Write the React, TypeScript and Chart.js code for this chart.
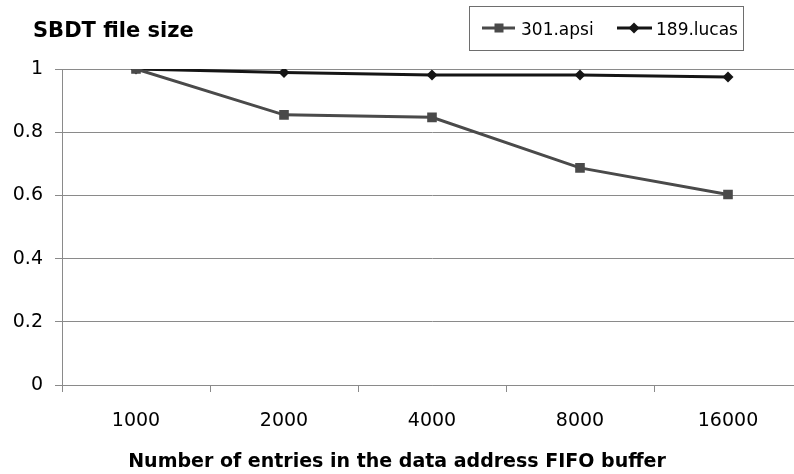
import React, { useEffect, useRef } from "react";
import { Chart, registerables } from "chart.js";

Chart.register(...registerables);

const categories = ["1000", "2000", "4000", "8000", "16000"];
const apsiValues = [1.0, 0.855, 0.847, 0.687, 0.603];
const lucasValues = [1.0, 0.989, 0.981, 0.981, 0.975];
const seriesNames = ["301.apsi", "189.lucas"];
const chartTitle = "SBDT file size";
const xAxisTitle = "Number of entries in the data address FIFO buffer";

const FONT = "'DejaVu Sans', 'Liberation Sans', Arial, sans-serif";
const APSI_COLOR = "#4a4a4a";
const LUCAS_COLOR = "#151515";
const GRID_COLOR = "#8a8a8a";

const overlayPlugin = {
  id: "overlay",
  afterDraw(chart: any) {
    const ctx = chart.ctx as CanvasRenderingContext2D;
    ctx.save();
    // title
    ctx.fillStyle = "#000";
    ctx.font = `bold 21px ${FONT}`;
    ctx.textAlign = "left";
    ctx.textBaseline = "alphabetic";
    ctx.fillText(chartTitle, 33, 37);

    // x axis title
    ctx.font = `bold 19px ${FONT}`;
    ctx.textAlign = "center";
    ctx.fillText(xAxisTitle, 397, 467);

    // legend box
    ctx.strokeStyle = "#6e6e6e";
    ctx.lineWidth = 1;
    ctx.strokeRect(469.5, 6.5, 274, 44);

    const y = 28;
    // item 1
    ctx.strokeStyle = APSI_COLOR;
    ctx.lineWidth = 3;
    ctx.beginPath();
    ctx.moveTo(482, y);
    ctx.lineTo(515, y);
    ctx.stroke();
    ctx.fillStyle = APSI_COLOR;
    ctx.fillRect(499 - 4.5, y - 4.5, 9, 9);
    // item 2
    ctx.strokeStyle = LUCAS_COLOR;
    ctx.beginPath();
    ctx.moveTo(617, y);
    ctx.lineTo(652, y);
    ctx.stroke();
    ctx.fillStyle = LUCAS_COLOR;
    ctx.beginPath();
    ctx.moveTo(634, y - 5.5);
    ctx.lineTo(639.5, y);
    ctx.lineTo(634, y + 5.5);
    ctx.lineTo(628.5, y);
    ctx.closePath();
    ctx.fill();

    ctx.fillStyle = "#000";
    ctx.font = `17px ${FONT}`;
    ctx.textAlign = "left";
    ctx.textBaseline = "alphabetic";
    ctx.fillText(seriesNames[0], 521, 35);
    ctx.fillText(seriesNames[1], 656, 35);
    ctx.restore();
  },
};

export default function App() {
  const canvasRef = useRef<HTMLCanvasElement | null>(null);

  useEffect(() => {
    if (!canvasRef.current) return;
    const chart = new Chart(canvasRef.current, {
      type: "line",
      data: {
        labels: categories,
        datasets: [
          {
            label: seriesNames[0],
            data: apsiValues,
            borderColor: APSI_COLOR,
            backgroundColor: APSI_COLOR,
            borderWidth: 3,
            pointStyle: "rect",
            pointRadius: 6.8,
            pointBorderWidth: 0,
            tension: 0,
          },
          {
            label: seriesNames[1],
            data: lucasValues,
            borderColor: LUCAS_COLOR,
            backgroundColor: LUCAS_COLOR,
            borderWidth: 3,
            pointStyle: "rectRot",
            pointRadius: 5.5,
            pointBorderWidth: 0,
            tension: 0,
          },
        ],
      },
      options: {
        responsive: false,
        animation: false,
        layout: { padding: { left: 0, right: 8, top: 69, bottom: 0 } },
        plugins: {
          legend: { display: false },
          title: { display: false },
          tooltip: { enabled: false },
        },
        scales: {
          x: {
            offset: true,
            grid: {
              offset: true,
              drawOnChartArea: false,
              tickLength: 7,
              color: GRID_COLOR,
            },
            border: { color: GRID_COLOR, width: 1 },
            ticks: {
              color: "#000",
              font: { family: FONT, size: 19 },
              padding: 18,
              maxRotation: 0,
            },
            afterFit(scale: any) {
              scale.height = 89;
            },
          },
          y: {
            min: 0,
            max: 1,
            ticks: {
              stepSize: 0.2,
              color: "#000",
              font: { family: FONT, size: 19 },
              padding: 12,
              callback: (v: any) => String(Math.round(Number(v) * 10) / 10),
            },
            grid: { color: GRID_COLOR, tickLength: 7 },
            border: { color: GRID_COLOR, width: 1 },
            afterFit(scale: any) {
              scale.width = 62;
            },
          },
        },
      },
      plugins: [overlayPlugin],
    });
    return () => chart.destroy();
  }, []);

  return (
    <div
      style={{
        position: "fixed",
        left: 0,
        top: 0,
        width: 794,
        height: 474,
        overflow: "hidden",
        background: "#fff",
      }}
    >
      <canvas ref={canvasRef} width={810} height={474} style={{ display: "block" }} />
    </div>
  );
}
